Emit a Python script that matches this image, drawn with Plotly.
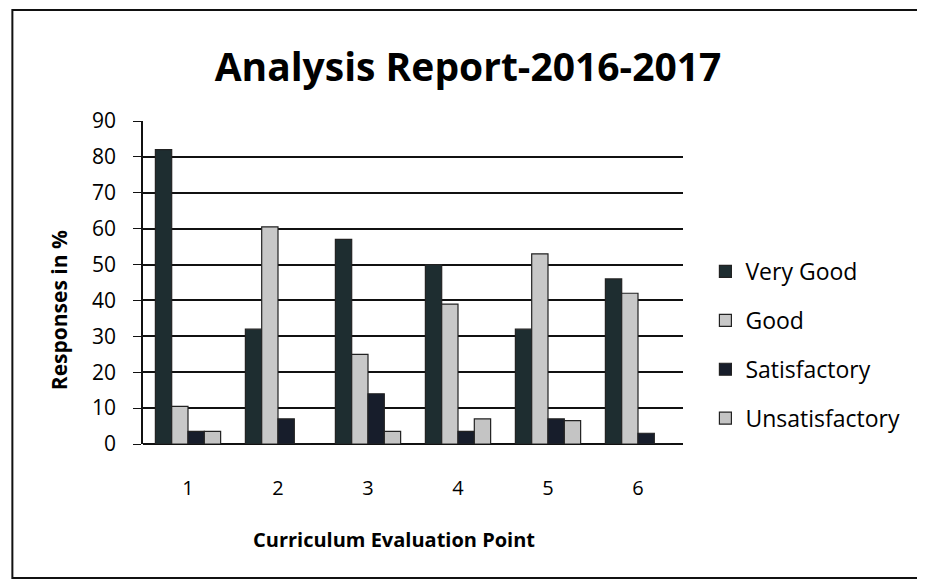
import plotly.graph_objects as go

categories = ["1", "2", "3", "4", "5", "6"]
very_good = [82, 32, 57, 50, 32, 46]
good = [10.5, 60.5, 25, 39, 53, 42]
satisfactory = [3.5, 7, 14, 3.5, 7, 3]
unsatisfactory = [3.5, 0, 3.5, 7, 6.5, 0]
y_ticks = [0, 10, 20, 30, 40, 50, 60, 70, 80, 90]

series = [
    ("Very Good", very_good, "#1e2d30"),
    ("Good", good, "#c8c8c8"),
    ("Satisfactory", satisfactory, "#171d2b"),
    ("Unsatisfactory", unsatisfactory, "#c4c4c4"),
]

FONT = "Open Sans"
fig = go.Figure()
for name, vals, col in series:
    fig.add_trace(go.Bar(
        x=categories, y=vals, name=name, legendgroup=name,
        marker=dict(color=col, line=dict(color="#222222", width=1.2)),
    ))

# figure sized to fit inside the window together with the page's 8px body margin
fig.update_layout(
    width=909, height=571,
    paper_bgcolor="white", plot_bgcolor="white",
    margin=dict(l=135, r=220, t=113, b=135),
    barmode="group", bargap=0.275, bargroupgap=0,
    title=dict(text="<b>Analysis Report-2016-2017</b>", x=460 / 909, xref="container",
               xanchor="center", y=1 - 59 / 571, yanchor="middle",
               font=dict(family=FONT, size=39, color="black")),
    font=dict(family=FONT, color="black"),
    legend=dict(x=1.0415, xanchor="left", y=0.3065, yanchor="middle",
                font=dict(family=FONT, size=23, color="black"),
                tracegroupgap=16, itemwidth=30),
    showlegend=True,
)
fig.update_xaxes(
    type="category", showgrid=False, showline=False, ticks="",
    tickfont=dict(size=20, family=FONT), ticklabelstandoff=30,
)
fig.update_yaxes(
    range=[0, 90], tickvals=y_ticks, showgrid=True, gridcolor="#111111", gridwidth=2,
    showline=True, linecolor="#111111", linewidth=1.5, ticks="outside", ticklen=8,
    tickcolor="#111111", zeroline=True, zerolinecolor="#111111", zerolinewidth=2,
    tickfont=dict(size=21, family=FONT), ticklabelstandoff=13,
)
fig.add_annotation(text="<b>Responses in %</b>", xref="paper", yref="paper",
                   x=-0.1552, y=0.4149, xanchor="center", yanchor="middle",
                   textangle=-90, showarrow=False,
                   font=dict(family=FONT, size=21, color="black"))
fig.add_annotation(text="<b>Curriculum Evaluation Point</b>", xref="paper", yref="paper",
                   x=0.4639, y=-0.2972, xanchor="center", yanchor="middle",
                   showarrow=False, font=dict(family=FONT, size=20, color="black"))

# chart frame as one open path: top, left and bottom edges (right edge lies outside the picture)
fl, fr, fb, ft = -0.2419, 1.5, -0.4149, 1.3437
fig.add_shape(type="path", xref="paper", yref="paper",
              path=f"M {fr},{ft} L {fl},{ft} L {fl},{fb} L {fr},{fb}",
              line=dict(color="#111111", width=2), fillcolor="rgba(0,0,0,0)", layer="below")

fig.write_html("out.html")
